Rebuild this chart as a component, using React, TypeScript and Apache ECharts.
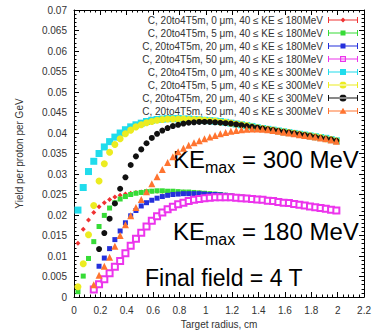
import React, { useEffect, useRef } from "react";
import * as echarts from "echarts";

const xValues = [0.03,0.07,0.11,0.15,0.19,0.23,0.27,0.31,0.35,0.39,0.43,0.47,0.51,0.55,0.59,0.63,0.67,0.71,0.75,0.79,0.83,0.87,0.91,0.95,0.99,1.03,1.07,1.11,1.15,1.19,1.23,1.27,1.31,1.35,1.39,1.43,1.47,1.51,1.55,1.59,1.63,1.67,1.71,1.75,1.79,1.83,1.87,1.91,1.95,1.99];

const red180_0 = [0.0131,0.0165,0.0188,0.0206,0.0220,0.0230,0.0238,0.0244,0.0248,0.0251,
  0.0253,0.0255,0.0256,0.0257,0.0258,0.0258,0.0258,0.0257,0.0257,0.0256,
  0.0256,0.0255,0.0254,0.0254,0.0253,0.0252,0.0251,0.0250,0.0249,0.0247,
  0.0246,0.0244,0.0243,0.0241,0.0239,0.0238,0.0236,0.0234,0.0233,0.0231,
  0.0229,0.0228,0.0226,0.0224,0.0222,0.0220,0.0218,0.0216,0.0214,0.0212];
const green180_5 = [0.0013,0.0051,0.0094,0.0135,0.0172,0.0199,0.0217,0.0230,0.0239,0.0245,
  0.0250,0.0253,0.0255,0.0257,0.0258,0.0259,0.0259,0.0258,0.0258,0.0257,
  0.0256,0.0256,0.0255,0.0254,0.0253,0.0252,0.0251,0.0250,0.0248,0.0247,
  0.0245,0.0244,0.0242,0.0241,0.0239,0.0237,0.0236,0.0234,0.0232,0.0231,
  0.0229,0.0227,0.0226,0.0224,0.0222,0.0220,0.0218,0.0216,0.0214,0.0212];
const blue180_20 = [null,null,null,null,0.0075,0.0095,0.0118,0.0140,0.0161,0.0181,
  0.0198,0.0211,0.0222,0.0230,0.0236,0.0241,0.0245,0.0248,0.0250,0.0251,
  0.0252,0.0252,0.0252,0.0252,0.0251,0.0250,0.0250,0.0249,0.0248,0.0246,
  0.0245,0.0243,0.0242,0.0240,0.0239,0.0237,0.0235,0.0234,0.0232,0.0230,
  0.0229,0.0227,0.0225,0.0223,0.0222,0.0220,0.0218,0.0216,0.0214,0.0212];
const magenta180_50 = [null,null,null,0.0018,0.0031,0.0043,0.0058,0.0074,0.0088,0.0107,
  0.0125,0.0142,0.0157,0.0172,0.0186,0.0197,0.0206,0.0214,0.0220,0.0226,
  0.0230,0.0234,0.0237,0.0239,0.0241,0.0242,0.0243,0.0243,0.0243,0.0243,
  0.0242,0.0241,0.0240,0.0239,0.0238,0.0237,0.0235,0.0234,0.0232,0.0230,
  0.0229,0.0227,0.0225,0.0223,0.0221,0.0219,0.0217,0.0215,0.0213,0.0211];
const cyan300_0 = [0.0212,0.0267,0.0306,0.0331,0.0350,0.0366,0.0379,0.0390,0.0400,0.0408,
  0.0415,0.0420,0.0424,0.0428,0.0431,0.0433,0.0434,0.0435,0.0435,0.0435,
  0.0434,0.0434,0.0433,0.0432,0.0431,0.0430,0.0429,0.0428,0.0426,0.0424,
  0.0422,0.0420,0.0418,0.0416,0.0413,0.0411,0.0409,0.0407,0.0405,0.0403,
  0.0401,0.0399,0.0397,0.0395,0.0393,0.0391,0.0389,0.0387,0.0384,0.0381];
const yellow300_5 = [0.0025,0.0081,0.0152,0.0223,0.0283,0.0325,0.0353,0.0372,0.0386,0.0398,
  0.0407,0.0415,0.0420,0.0425,0.0428,0.0431,0.0433,0.0434,0.0434,0.0434,
  0.0434,0.0433,0.0433,0.0432,0.0431,0.0430,0.0429,0.0427,0.0426,0.0424,
  0.0422,0.0420,0.0418,0.0415,0.0413,0.0411,0.0409,0.0407,0.0405,0.0403,
  0.0401,0.0399,0.0397,0.0395,0.0393,0.0391,0.0389,0.0386,0.0384,0.0381];
const black300_20 = [null,null,null,null,0.0117,0.0156,0.0191,0.0228,0.0264,0.0292,
  0.0322,0.0343,0.0360,0.0375,0.0388,0.0398,0.0406,0.0412,0.0417,0.0420,
  0.0423,0.0425,0.0426,0.0427,0.0427,0.0427,0.0426,0.0425,0.0424,0.0423,
  0.0421,0.0419,0.0417,0.0415,0.0413,0.0411,0.0409,0.0407,0.0405,0.0403,
  0.0401,0.0399,0.0397,0.0395,0.0393,0.0390,0.0388,0.0386,0.0384,0.0381];
const orange300_50 = [null,null,null,0.0030,0.0053,0.0075,0.0097,0.0124,0.0150,0.0176,
  0.0198,0.0218,0.0238,0.0257,0.0276,0.0293,0.0311,0.0328,0.0342,0.0354,
  0.0363,0.0370,0.0376,0.0381,0.0386,0.0390,0.0394,0.0398,0.0401,0.0404,
  0.0406,0.0408,0.0409,0.0410,0.0410,0.0409,0.0408,0.0406,0.0404,0.0402,
  0.0400,0.0398,0.0396,0.0394,0.0392,0.0390,0.0388,0.0386,0.0383,0.0380];

const seriesNames = [
  "C, 20to4T5m, 0 μm, 40 ≤ KE ≤ 180MeV",
  "C, 20to4T5m, 5 μm, 40 ≤ KE ≤ 180MeV",
  "C, 20to4T5m, 20 μm, 40 ≤ KE ≤ 180MeV",
  "C, 20to4T5m, 50 μm, 40 ≤ KE ≤ 180MeV",
  "C, 20to4T5m, 0 μm, 40 ≤ KE ≤ 300MeV",
  "C, 20to4T5m, 5 μm, 40 ≤ KE ≤ 300MeV",
  "C, 20to4T5m, 20 μm, 40 ≤ KE ≤ 300MeV",
  "C, 20to4T5m, 50 μm, 40 ≤ KE ≤ 300MeV",
];
const seriesValues = [red180_0, green180_5, blue180_20, magenta180_50, cyan300_0, yellow300_5, black300_20, orange300_50];
const seriesColors = ["#f03232", "#36dc36", "#2430dc", "#ec34ec", "#20dcec", "#ecec20", "#111111", "#ff7430"];
const seriesSymbols = ["diamond", "rect", "rect", "emptyRect", "rect", "circle", "circle", "triangle"];
const seriesSizes = [5, 5, 5, 6, 7, 7, 6, 7];

const xTicks = { min: 0, max: 2.2, interval: 0.2 };
const yTicks = { min: 0, max: 0.07, interval: 0.005 };

const FONT = "'Liberation Sans', Arial, sans-serif";

// legend icon: error-bar style line with caps and a marker in the middle (30 x 8 box)
const BAR = "M0 3.5 H30 V4.5 H0 Z M0 1 H1 V7 H0 Z M29 1 H30 V7 H29 Z M15 0 H15.01 V8 H15 Z ";
const MARK: Record<string, string> = {
  diamond: "M15 1.5 L17.5 4 L15 6.5 L12.5 4 Z",
  rect: "M12.5 1.5 H17.5 V6.5 H12.5 Z",
  bigrect: "M12 1 H18 V7 H12 Z",
  emptyRect: "M12 1 H18 V7 H12 Z M13.2 2.2 V5.8 H16.8 V2.2 Z",
  circle: "M11.5 4 A3.5 3.5 0 1 0 18.5 4 A3.5 3.5 0 1 0 11.5 4 Z",
  triangle: "M15 0.8 L18.5 6.8 L11.5 6.8 Z",
};
const legendMarks = ["diamond", "rect", "rect", "emptyRect", "bigrect", "circle", "circle", "triangle"];

export default function App() {
  const ref = useRef<HTMLDivElement>(null);
  useEffect(() => {
    document.body.style.margin = "0";
    if (!ref.current) return;
    const chart = echarts.init(ref.current, undefined, { renderer: "svg" });
    const axisCommon = {
      type: "value" as const,
      axisLine: { show: true, onZero: false, lineStyle: { color: "#000", width: 1 } },
      axisTick: { show: true, inside: true, length: 5, lineStyle: { color: "#000" } },
      minorTick: { show: true, splitNumber: 5, length: 2.5, lineStyle: { color: "#000" } },
      splitLine: { show: false },
    };
    const series = seriesNames.map((name, i) => ({
      name,
      type: "line" as const,
      xAxisIndex: 0,
      yAxisIndex: 0,
      data: xValues
        .map((x, k) => [x, seriesValues[i][k]])
        .filter((p) => p[1] !== null),
      symbol: seriesSymbols[i],
      symbolSize: seriesSizes[i],
      showSymbol: true,
      lineStyle: { width: 0, color: seriesColors[i] },
      itemStyle: { color: seriesColors[i], borderColor: seriesColors[i], borderWidth: seriesSymbols[i] === "emptyRect" ? 1.2 : 0 },
      emphasis: { disabled: true },
      z: 2 + i,
    }));
    chart.setOption({
      animation: false,
      textStyle: { fontFamily: FONT },
      grid: { left: 74, right: 5, top: 10, bottom: 38, show: false },
      xAxis: [
        {
          ...axisCommon,
          position: "bottom",
          ...xTicks,
          axisLabel: { color: "#333", fontSize: 10, margin: 8, fontFamily: FONT },
          name: "Target radius, cm",
          nameLocation: "middle",
          nameGap: 22,
          nameTextStyle: { color: "#333", fontSize: 10, fontFamily: FONT },
        },
        {
          ...axisCommon,
          position: "top",
          ...xTicks,
          axisLabel: { show: false },
        },
      ],
      yAxis: [
        {
          ...axisCommon,
          position: "left",
          ...yTicks,
          axisLabel: { color: "#333", fontSize: 10, margin: 7, fontFamily: FONT },
          name: "Yield per proton per GeV",
          nameLocation: "middle",
          nameGap: 50,
          nameTextStyle: { color: "#333", fontSize: 10, fontFamily: FONT },
        },
        {
          ...axisCommon,
          position: "right",
          ...yTicks,
          axisLabel: { show: false },
        },
      ],
      legend: {
        orient: "vertical",
        align: "right",
        right: 16,
        top: 15,
        padding: 0,
        itemWidth: 30,
        itemHeight: 8,
        itemGap: 3,
        textStyle: { fontSize: 10, color: "#333", fontFamily: FONT },
        data: seriesNames.map((name, i) => ({
          name,
          icon: "path://" + BAR + MARK[legendMarks[i]],
          itemStyle: { color: seriesColors[i], borderWidth: 0 },
        })),
      },
      series,
      graphic: [
        { type: "text", left: 173, top: 147, style: { text: "KE", fontSize: 24, fontFamily: FONT, fill: "#000" } },
        { type: "text", left: 205, top: 159, style: { text: "max", fontSize: 16, fontFamily: FONT, fill: "#000" } },
        { type: "text", left: 242, top: 147, style: { text: "= 300 MeV", fontSize: 24, fontFamily: FONT, fill: "#000" } },
        { type: "text", left: 173, top: 219, style: { text: "KE", fontSize: 24, fontFamily: FONT, fill: "#000" } },
        { type: "text", left: 205, top: 231, style: { text: "max", fontSize: 16, fontFamily: FONT, fill: "#000" } },
        { type: "text", left: 242, top: 219, style: { text: "= 180 MeV", fontSize: 24, fontFamily: FONT, fill: "#000" } },
        { type: "text", left: 145, top: 266, style: { text: "Final field = 4 T", fontSize: 23, fontFamily: FONT, fill: "#000" } },
      ],
    });
    return () => chart.dispose();
  }, []);
  return <div ref={ref} style={{ width: 374, height: 335 }} />;
}
